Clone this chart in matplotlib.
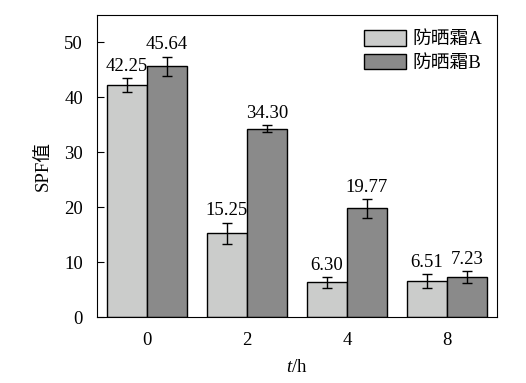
import matplotlib.pyplot as plt
import numpy as np

plt.rcParams['font.family'] = ['Liberation Serif', 'Noto Sans CJK SC']
plt.rcParams['mathtext.fontset'] = 'custom'
plt.rcParams['mathtext.it'] = 'Liberation Serif:italic'
plt.rcParams['mathtext.rm'] = 'Liberation Serif'

hours = ["0", "2", "4", "8"]
spf_a = [42.25, 15.25, 6.30, 6.51]
spf_b = [45.64, 34.30, 19.77, 7.23]
err_a = [1.2, 1.95, 1.0, 1.3]
err_b = [1.8, 0.6, 1.7, 1.1]
names = ["防晒霜A", "防晒霜B"]

fs = 13.5
fig = plt.figure(figsize=(5.26, 3.83), dpi=100)
ax = fig.add_axes([97 / 526, 1 - 317 / 383, 400 / 526, 302 / 383])

x = np.arange(len(hours))
w = 0.4
err_kw = dict(elinewidth=1, capsize=3.5, capthick=1, ecolor="black")
ax.bar(x - w / 2, spf_a, w, yerr=err_a, color="#cbcccb", edgecolor="black",
       linewidth=1, label=names[0], error_kw=err_kw)
ax.bar(x + w / 2, spf_b, w, yerr=err_b, color="#8a8a8a", edgecolor="black",
       linewidth=1, label=names[1], error_kw=err_kw)

# value labels sit just above the error bar caps
for xi, v, e in zip(x - w / 2, spf_a, err_a):
    ax.text(xi, v + e + 1.3, f"{v:.2f}", ha="center", va="baseline", fontsize=fs)
for xi, v, e in zip(x + w / 2, spf_b, err_b):
    ax.text(xi, v + e + 1.3, f"{v:.2f}", ha="center", va="baseline", fontsize=fs)

ax.set_xlim(-0.5, 3.5)
ax.set_ylim(0, 55)
ax.set_yticks([0, 10, 20, 30, 40, 50])
ax.set_xticks(x)
ax.set_xticklabels(hours)
ax.tick_params(axis="y", direction="in", length=5, labelsize=fs, pad=10)
ax.tick_params(axis="x", length=0, labelsize=fs, pad=11)
ax.set_xlabel("$t$/h", fontsize=fs, labelpad=7)
ax.set_ylabel("SPF值", fontsize=fs, labelpad=9)

ax.legend(loc="upper right", frameon=False, fontsize=fs, handlelength=2.2,
          handleheight=0.9, handletextpad=0.35, labelspacing=0.3,
          borderaxespad=0.5, borderpad=0.3)

fig.savefig("out.png", dpi=100)
